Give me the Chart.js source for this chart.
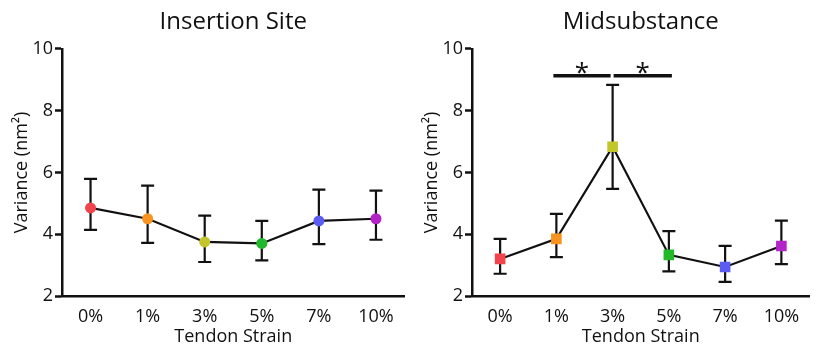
<!DOCTYPE html>
<html>
<head>
<meta charset="utf-8">
<script src="https://cdn.jsdelivr.net/npm/chart.js@4.4.1/dist/chart.umd.min.js"></script>
<style>
  body { margin: 0; background: #fff; }
  .wrap { display: flex; width: 817px; height: 354px; }
</style>
</head>
<body>
<div class="wrap">
  <canvas id="insertionChart" width="410" height="354"></canvas>
  <canvas id="midChart" width="407" height="354"></canvas>
</div>
<script>
// tendon strain groups
const strainLabels = ['0%', '1%', '3%', '5%', '7%', '10%'];
const pointColors = ['#f2444c', '#f7931e', '#c3c62b', '#22b82c', '#5b5cf2', '#b423c8'];

// insertion site: mean and error bar ends
const insertionMean = [4.85, 4.5, 3.75, 3.7, 4.43, 4.5];
const insertionUpper = [5.79, 5.57, 4.6, 4.43, 5.44, 5.41];
const insertionLower = [4.14, 3.72, 3.1, 3.15, 3.68, 3.82];

// midsubstance: mean and error bar ends
const midMean = [3.2, 3.85, 6.83, 3.33, 2.94, 3.62];
const midUpper = [3.85, 4.66, 8.83, 4.1, 3.62, 4.44];
const midLower = [2.72, 3.26, 5.47, 2.8, 2.46, 3.03];

// significance bars (midsubstance only)
const midSigPairs = [['1%', '3%'], ['3%', '5%']];
const sigLevel = 9.13;

const yTicks = [2, 4, 6, 8, 10];
const fontFamily = '"Open Sans", "Noto Sans", sans-serif';

//draws error bars + significance bars using the chart scales
const errorBarPlugin = {
    id: 'errorBars',
    beforeDatasetsDraw(chart) {
        const opts = chart.options.plugins.errorBars;
        const x = chart.scales.x, y = chart.scales.y;
        const ctx = chart.ctx;
        ctx.save();
        ctx.strokeStyle = '#111';
        ctx.lineWidth = 2.2;
        opts.upper.forEach((up, i) => {
            const px = x.getPixelForValue(i);
            const yt = y.getPixelForValue(up);
            const yb = y.getPixelForValue(opts.lower[i]);
            ctx.beginPath();
            ctx.moveTo(px, yt); ctx.lineTo(px, yb);
            ctx.moveTo(px - 6.5, yt); ctx.lineTo(px + 6.5, yt);
            ctx.moveTo(px - 6.5, yb); ctx.lineTo(px + 6.5, yb);
            ctx.stroke();
        });
        ctx.restore();
    },
    afterDatasetsDraw(chart) {
        const opts = chart.options.plugins.errorBars;
        if (!opts.sig) return;
        const x = chart.scales.x, y = chart.scales.y;
        const ctx = chart.ctx;
        const py = y.getPixelForValue(sigLevel);
        ctx.save();
        ctx.strokeStyle = '#111';
        ctx.fillStyle = '#111';
        ctx.lineWidth = 3.5;
        ctx.font = '26px ' + fontFamily;
        ctx.textAlign = 'center';
        ctx.textBaseline = 'middle';
        opts.sig.forEach((pair, i) => {
            const a = strainLabels.indexOf(pair[0]);
            const b = strainLabels.indexOf(pair[1]);
            let x1 = x.getPixelForValue(a) - 3;
            let x2 = x.getPixelForValue(b) + 3;
            //leave a small gap where two bars meet
            if (opts.sig.some(p => p[0] === pair[1])) x2 = x.getPixelForValue(b) - 2;
            if (opts.sig.some(p => p[1] === pair[0])) x1 = x.getPixelForValue(a) + 1;
            ctx.beginPath();
            ctx.moveTo(x1, py); ctx.lineTo(x2, py);
            ctx.stroke();
            ctx.fillText('*', (x1 + x2) / 2, py - 2);
        });
        ctx.restore();
    }
};

function makeChart(id, title, mean, upper, lower, pointStyle, radius, sig) {
    const ctx = document.getElementById(id).getContext('2d');
    return new Chart(ctx, {
        type: 'line',
        data: {
            labels: strainLabels,
            datasets: [{
                data: mean,
                borderColor: '#111',
                borderWidth: 2.2,
                pointStyle: pointStyle,
                pointRadius: radius,
                pointBorderWidth: 0,
                pointBackgroundColor: pointColors,
                tension: 0
            }]
        },
        options: {
            responsive: false,
            animation: false,
            layout: { padding: 0 },
            plugins: {
                legend: { display: false },
                tooltip: { enabled: false },
                title: {
                    display: true,
                    fullSize: false,
                    text: title,
                    color: '#111',
                    font: { family: fontFamily, size: 24, weight: 'normal' },
                    padding: { top: 8, bottom: 12 }
                },
                errorBars: { upper: upper, lower: lower, sig: sig }
            },
            scales: {
                x: {
                    offset: true,
                    grid: { display: false },
                    border: { display: true, color: '#111', width: 2.5 },
                    ticks: { color: '#111', padding: 2, font: { family: fontFamily, size: 18 } },
                    title: {
                        display: true,
                        text: 'Tendon Strain',
                        color: '#111',
                        font: { family: fontFamily, size: 18 },
                        padding: { top: 0, bottom: 6 }
                    },
                    afterFit(scale) { scale.height = 58; }
                },
                y: {
                    min: 2,
                    max: 10,
                    afterBuildTicks(scale) { scale.ticks = yTicks.map(v => ({ value: v })); },
                    grid: { drawOnChartArea: false, drawTicks: true, tickLength: 7, tickWidth: 2.5, tickColor: '#111' },
                    border: { display: true, color: '#111', width: 2.5 },
                    ticks: { color: '#111', padding: 2, font: { family: fontFamily, size: 18 } },
                    title: {
                        display: true,
                        text: 'Variance (nm²)',
                        color: '#111',
                        font: { family: fontFamily, size: 18 },
                        padding: { top: 11, bottom: 0 }
                    },
                    afterFit(scale) { scale.width = 62; }
                }
            }
        },
        plugins: [errorBarPlugin]
    });
}

makeChart('insertionChart', 'Insertion Site', insertionMean, insertionUpper, insertionLower, 'circle', 5.5, null);
makeChart('midChart', 'Midsubstance', midMean, midUpper, midLower, 'rect', 7.5, midSigPairs);
</script>
</body>
</html>
